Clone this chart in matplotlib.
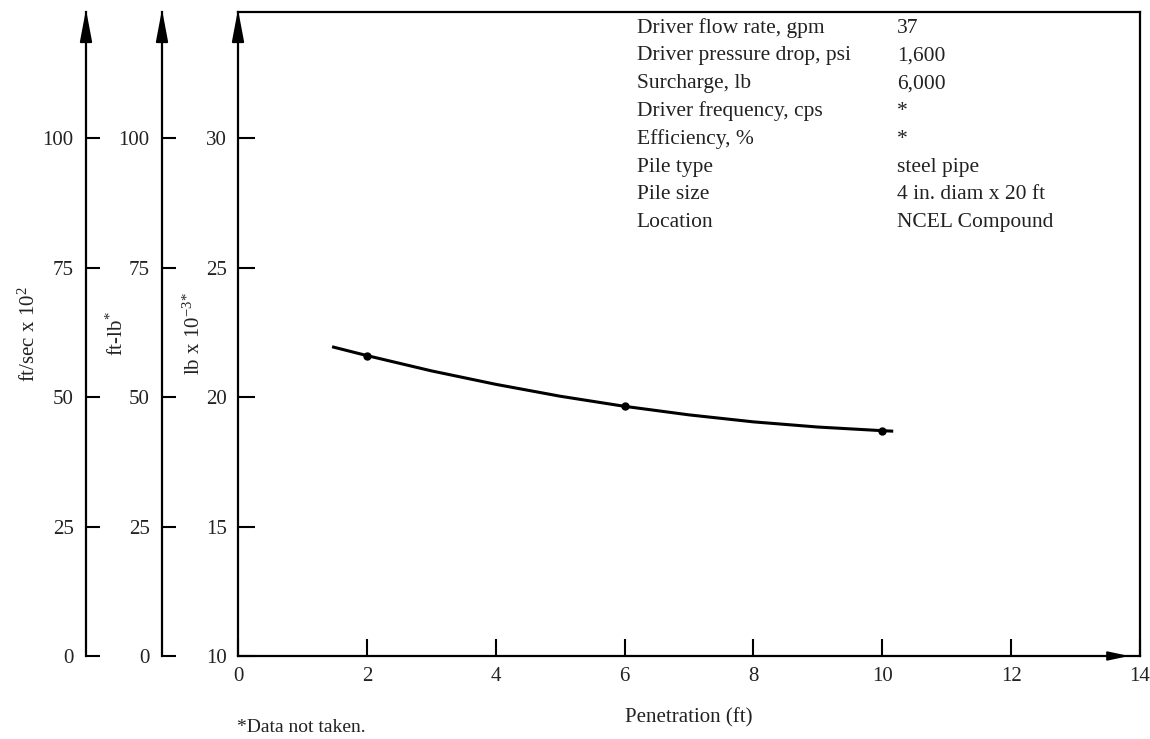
import matplotlib
matplotlib.use("Agg")
import matplotlib.pyplot as plt

# curve (penetration ft, force lb x 10^-3)
curve_pen = [1.46, 2, 3, 4, 5, 6, 7, 8, 9, 10, 10.17]
curve_force = [21.94, 21.6, 21.01, 20.49, 20.03, 19.64, 19.31, 19.04, 18.84, 18.70, 18.68]

# measured points
pen_pts = [2, 6, 10]
force_pts = [21.6, 19.64, 18.70]

x_ticks = [0, 2, 4, 6, 8, 10, 12, 14]
force_ticks = [10, 15, 20, 25, 30]
vel_ticks = [0, 25, 50, 75, 100]
energy_ticks = [0, 25, 50, 75, 100]

table_labels = ["Driver flow rate, gpm", "Driver pressure drop, psi", "Surcharge, lb",
                "Driver frequency, cps", "Efficiency, %", "Pile type", "Pile size", "Location"]
table_values = ["37", "1,600", "6,000", "*", "*", "steel pipe",
                "4 in. diam x 20 ft", "NCEL Compound"]

plt.rcParams['font.family'] = ['Liberation Serif', 'DejaVu Serif']
plt.rcParams['mathtext.fontset'] = 'custom'
plt.rcParams['mathtext.rm'] = 'Liberation Serif'
plt.rcParams['mathtext.it'] = 'Liberation Serif'
TXT = '#222222'

fig = plt.figure(figsize=(11.5, 7.39), dpi=100)
ax = fig.add_axes([238 / 1150, 1 - 656 / 739, 902 / 1150, 644 / 739])

ytop = 10 + 644 / 25.9
ax.set_xlim(0, 14)
ax.set_ylim(10, ytop)

ax.plot(curve_pen, curve_force, color='black', lw=2.2, solid_capstyle='butt')
ax.plot(pen_pts, force_pts, 'o', color='black', ms=5)

for s in ax.spines.values():
    s.set_linewidth(1.6)
ax.set_xticks(x_ticks)
ax.set_yticks(force_ticks)
ax.tick_params(axis='both', direction='in', length=12, width=1.5, labelsize=15,
               labelcolor=TXT)
ax.tick_params(axis='x', pad=8)
ax.tick_params(axis='y', pad=8)
ax.set_xlabel('Penetration (ft)', fontsize=15, color=TXT, labelpad=16)
ax.set_ylabel('lb x 10$^{-3}$$^{*}$', fontsize=15, color=TXT)
ax.yaxis.set_label_coords(-0.037, 0.5)

# extra left axes
def side_axis(frac, ylim, ticks, label, label_x):
    a = ax.twinx()
    a.set_ylim(*ylim)
    for k in ('right', 'top', 'bottom'):
        a.spines[k].set_visible(False)
    a.spines['left'].set_visible(True)
    a.spines['left'].set_position(('axes', frac))
    a.spines['left'].set_linewidth(1.6)
    a.yaxis.set_ticks_position('left')
    a.yaxis.set_label_position('left')
    a.set_yticks(ticks)
    a.tick_params(axis='y', direction='in', length=10, width=1.5, labelsize=15,
                  labelcolor=TXT, pad=9)
    a.set_ylabel(label, fontsize=15, color=TXT)
    a.yaxis.set_label_coords(label_x, 0.5)
    return a

scale = 100 / 20 * (ytop - 10)
side_axis(-152 / 902, (0, scale), vel_ticks, 'ft/sec x 10$^{2}$', -0.22)
side_axis(-76 / 902, (0, scale), energy_ticks, 'ft-lb$^{*}$', -0.122)

# arrowheads on the vertical axes
for fx in (-152 / 902, -76 / 902, 0):
    ax.annotate('', xy=(fx, 1.004), xytext=(fx, 0.95), xycoords='axes fraction',
                arrowprops=dict(arrowstyle='-|>,head_length=0.9,head_width=0.17',
                                color='black', lw=1.4,
                                mutation_scale=22, shrinkA=0, shrinkB=0),
                annotation_clip=False)
# arrow on the x axis
ax.annotate('', xy=(0.988, 0), xytext=(0.95, 0), xycoords='axes fraction',
            arrowprops=dict(arrowstyle='-|>,head_length=0.8,head_width=0.17',
                            color='black', lw=1.3,
                            mutation_scale=16, facecolor='#888888', shrinkA=0, shrinkB=0),
            annotation_clip=False)

# test condition table
y0 = 0.975
step = (0.975 - 0.673) / 7
for i, (lab, val) in enumerate(zip(table_labels, table_values)):
    ax.text(0.442, y0 - i * step, lab, transform=ax.transAxes, fontsize=15.5,
            color=TXT, va='center', ha='left')
    ax.text(0.731, y0 - i * step, val, transform=ax.transAxes, fontsize=15.5,
            color=TXT, va='center', ha='left')

fig.text(237 / 1150, 1 - 727 / 739, '*Data not taken.', fontsize=14, color=TXT,
         va='center', ha='left')

fig.savefig('out.png', dpi=100)
